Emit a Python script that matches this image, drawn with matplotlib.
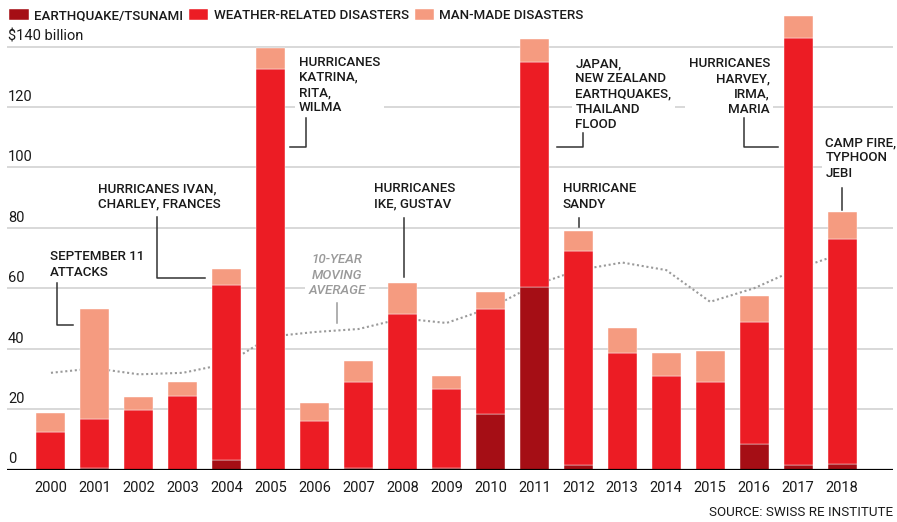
import matplotlib
matplotlib.use("Agg")
import matplotlib.pyplot as plt
import numpy as np

plt.rcParams["font.family"] = ["Roboto", "DejaVu Sans"]

years = [str(y) for y in range(2000, 2019)]
quake = [0, 0.5, 0, 0, 3.3, 0, 0, 0.5, 0, 0.5, 18.4, 60.5, 1.4, 0, 0, 0, 8.6, 1.4, 1.9]
weather = [12.4, 16.1, 19.7, 24.4, 57.8, 132.5, 16, 28.5, 51.6, 26, 34.6, 74.3,
           70.9, 38.7, 31, 29.1, 40.1, 141.5, 74.4]
manmade = [6.2, 36.6, 4.3, 4.7, 5.2, 6.9, 6, 7, 10.1, 4.5, 5.8, 7.7, 6.6, 8, 7.7,
           10, 8.6, 7.2, 8.8]
moving_avg = [32, 33.5, 31.5, 32, 35, 44, 45.5, 46.5, 50, 48.5, 53.5, 61, 66,
              68.5, 66, 55.5, 60, 66.5, 71.5]
yticks = [0, 20, 40, 60, 80, 100, 120, 140]
ytick_labels = ["0", "20", "40", "60", "80", "100", "120", "$140 billion"]

C_QUAKE = "#a50e15"
C_WEATHER = "#ec1c24"
C_MAN = "#f59b80"
INK = "#1a1a1a"
FS = 9.6

fig = plt.figure(figsize=(8.97, 5.22), dpi=100)
W, H = 897, 522
ax = fig.add_axes([7 / W, (H - 469.5) / H, 886 / W, 468.3 / H])
ax.set_xlim(-1.0, 19.16)
ax.set_ylim(0, 155)
for s in ax.spines.values():
    s.set_visible(False)
ax.set_yticks([])
ax.tick_params(axis="x", length=0, pad=8, labelsize=10.5, labelcolor=INK)

x = np.arange(len(years))
q = np.array(quake)
w = np.array(weather)
m = np.array(manmade)

for v in yticks[1:]:
    ax.axhline(v, color="#d2d2d2", lw=1.2, zorder=0)
ax.axhline(0, color="black", lw=1.6, zorder=5)

ax.plot(x, moving_avg, color="#9a9a9a", lw=1.5, ls=(0, (1, 1.3)), zorder=1)

bw = 0.66
ax.bar(x, q, bw, color=C_QUAKE, edgecolor="white", lw=0.3, zorder=2,
       label="EARTHQUAKE/TSUNAMI")
ax.bar(x, w, bw, bottom=q, color=C_WEATHER, edgecolor="white", lw=0.3, zorder=2,
       label="WEATHER-RELATED DISASTERS")
ax.bar(x, m, bw, bottom=q + w, color=C_MAN, edgecolor="white", lw=0.3, zorder=2,
       label="MAN-MADE DISASTERS")

ax.set_xticks(x)
ax.set_xticklabels(years)

for v, lab in zip(yticks, ytick_labels):
    ax.text(-0.975, v + 1.0, lab, fontsize=10.5, color=INK, ha="left", va="bottom",
            zorder=6)

box = dict(facecolor="white", edgecolor="none", pad=2.5)


def note(tx, ty, text, path, ha="left", color=INK, style="normal"):
    ax.text(tx, ty, text, ha=ha, va="top", fontsize=FS, color=color,
            fontweight="medium", linespacing=1.22, bbox=box, zorder=4,
            fontstyle=style)
    px, py = zip(*path)
    ax.plot(px, py, color="#333333" if color == INK else color, lw=1.1,
            zorder=4, clip_on=False)


note(-0.02, 72.5, "SEPTEMBER 11\nATTACKS", [(0.137, 61.7), (0.137, 47.8), (0.5, 47.8)])
note(1.07, 95.0, "HURRICANES IVAN,\nCHARLEY, FRANCES",
     [(2.41, 83.7), (2.41, 63.5), (3.5, 63.5)])
note(5.64, 137.0, "HURRICANES\nKATRINA,\nRITA,\nWILMA",
     [(5.80, 116.4), (5.80, 106.9), (5.45, 106.9)])
note(6.51, 71.5, "10-YEAR\nMOVING\nAVERAGE", [(6.51, 55.1), (6.51, 48.5)],
     ha="center", color="#9a9a9a", style="italic")
note(7.35, 95.0, "HURRICANES\nIKE, GUSTAV", [(8.03, 83.3), (8.03, 63.7)])
note(11.93, 136.5, "JAPAN,\nNEW ZEALAND\nEARTHQUAKES,\nTHAILAND\nFLOOD",
     [(12.1, 111.4), (12.1, 106.9), (11.52, 106.9)])
note(11.65, 95.0, "HURRICANE\nSANDY", [(12.02, 83.3), (12.02, 80.3)])
note(16.36, 136.5, "HURRICANES\nHARVEY,\nIRMA,\nMARIA",
     [(15.77, 116.4), (15.77, 106.9), (16.54, 106.9)], ha="right")
note(17.62, 110.3, "CAMP FIRE,\nTYPHOON\nJEBI", [(18.0, 93.2), (18.0, 85.9)])

fig.legend(loc="upper left", bbox_to_anchor=(4 / W, 1 - 4 / H), ncol=3,
           frameon=False, prop=dict(size=FS, weight="medium"), handlelength=1.45,
           handleheight=0.85, handletextpad=0.4, columnspacing=0.45,
           borderaxespad=0, labelcolor=INK)

fig.text(893 / W, 1 - 512 / H, "SOURCE: SWISS RE INSTITUTE", ha="right",
         va="center", fontsize=FS, color=INK)

fig.savefig("out.png", dpi=100)
